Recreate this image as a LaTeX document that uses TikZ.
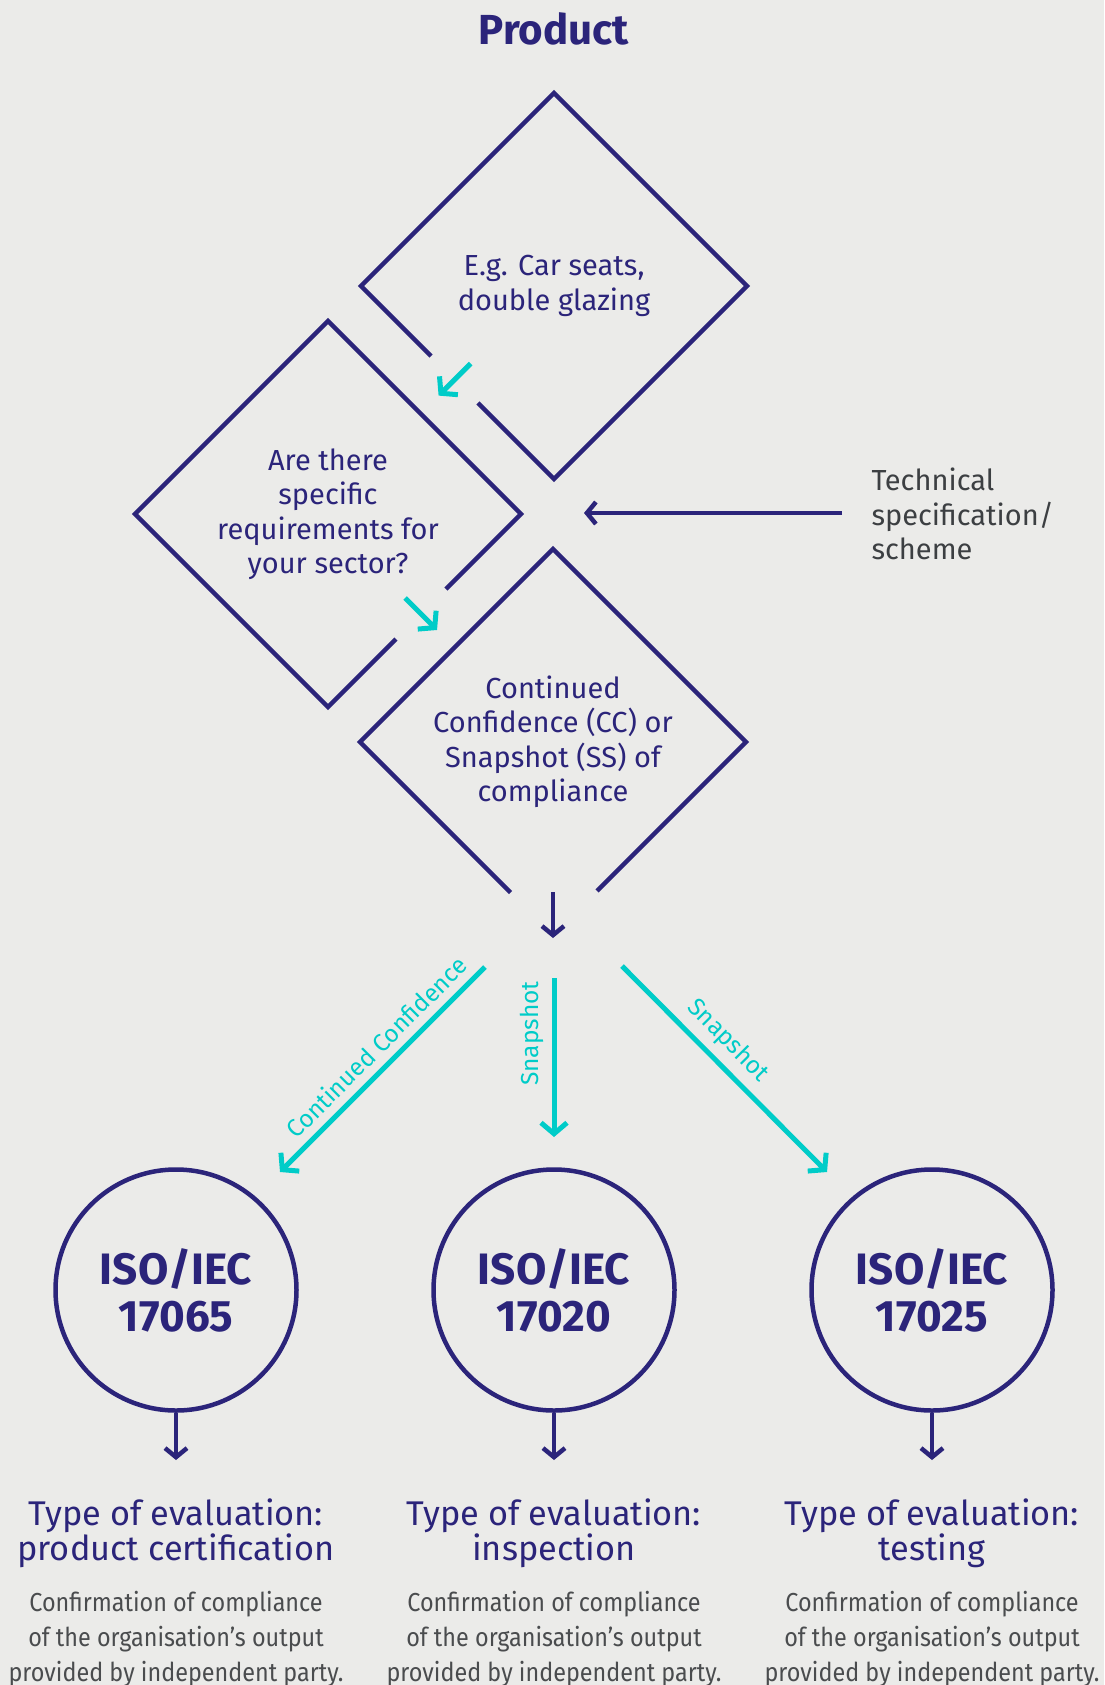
\documentclass[tikz,border=0pt]{standalone}
\usepackage{fontspec}
\setmainfont{Fira Sans}
\newfontfamily\narrowfont{Fira Sans}[FakeStretch=0.9]
\usepackage{xcolor}
\usepackage{tikz}
\usetikzlibrary{shapes.geometric, arrows.meta, calc}
\definecolor{navy}{HTML}{2B247A}
\definecolor{teal}{HTML}{00CCC8}
\definecolor{paper}{HTML}{EBEBE9}
\definecolor{ink}{HTML}{3C3F42}
\definecolor{soft}{HTML}{4A4C4E}
\tikzstyle{question} = [diamond, aspect=1, minimum width=386pt, minimum height=386pt, inner sep=0pt, outer sep=0pt, align=center, text=navy, font=\fontsize{29}{34.5}\selectfont]
\tikzstyle{standard} = [circle, minimum size=241pt, inner sep=0pt, draw=navy, line width=4.5pt, align=center, text=navy, font=\bfseries\fontsize{44}{47}\selectfont]
\tikzstyle{evaltype} = [align=center, text=navy, font=\fontsize{34.3}{34}\selectfont]
\tikzstyle{evaltext} = [align=center, text=soft, font=\narrowfont\fontsize{26}{35}\selectfont]
\tikzstyle{outline} = [draw=navy, line width=4.5pt]
\tikzstyle{arrow} = [line width=4.5pt, draw=navy, -{Straight Barb[length=9pt, width=22pt]}]
\tikzstyle{flow} = [line width=5pt, draw=teal, -{Straight Barb[length=11pt, width=26pt]}]
\tikzstyle{route} = [text=teal, font=\fontsize{24.5}{26}\selectfont, inner sep=8pt]

\begin{document}
\begin{tikzpicture}[x=1pt, y=-1pt]
   \fill[paper] (0,0) rectangle (1104,1685);
   \useasboundingbox (0,0) rectangle (1104,1685);

   \node (title) [text=navy, font=\bfseries\fontsize{42}{46}\selectfont] at (554,29) {Product};

   % three questions
   \node (d1) [question] at (554,286) {E.g. Car seats,\\double glazing};
   \node (d2) [question] at (328,514) {Are there\\specific\\requirements for\\your sector?};
   \node (d3) [question] at (553,742) {Continued\\Confidence (CC) or\\Snapshot (SS) of\\compliance};

   \draw [outline] ($(d1.west)!0.606!(d1.south)$) -- (d1.south) -- (d1.east) -- (d1.north) -- (d1.west) -- ($(d1.west)!0.363!(d1.south)$);
   \draw [outline] ($(d2.east)!0.389!(d2.south)$) -- (d2.east) -- (d2.north) -- (d2.west) -- (d2.south) -- ($(d2.east)!0.648!(d2.south)$);
   \draw [outline] ($(d3.west)!0.78!(d3.south)$) -- (d3.west) -- (d3.north) -- (d3.east) -- ($(d3.south)!0.228!(d3.east)$);

   \coordinate (g1) at ($(d1.west)!0.485!(d1.south)$);
   \coordinate (g2) at ($(d2.east)!0.518!(d2.south)$);
   \draw [flow] ($(g1)+(16,-16)$) -- ($(g1)+(-16,16)$);
   \draw [flow] ($(g2)+(-16,-16)$) -- ($(g2)+(16,16)$);

   \node (spec) [anchor=west, align=left, text=ink, font=\fontsize{29}{34.5}\selectfont] at (868,514) {Technical\\specification/\\scheme};
   \coordinate (inlet) at (584,513);
   \draw [arrow] (842,513) -- (inlet);

   \coordinate (out1) at (553,892);
   \coordinate (out2) at (553,938);
   \draw [arrow] (out1) -- (out2);

   % the three standards
   \node (c1) [standard] at (176,1290) {ISO/IEC\\17065};
   \node (c2) [standard] at (554,1290) {ISO/IEC\\17020};
   \node (c3) [standard] at (932,1290) {ISO/IEC\\17025};

   \coordinate (cc1) at (485,967);  \coordinate (cc2) at (280,1172);
   \coordinate (sm1) at (554,978);  \coordinate (sm2) at (554,1137);
   \coordinate (sr1) at (622,966);  \coordinate (sr2) at (827,1172);
   \draw [flow] (cc1) -- node[route, sloped, above, pos=0.46] {Continued Confidence} (cc2);
   \draw [flow] (sm1) -- node[route, rotate=90, anchor=south, pos=0.35] {Snapshot} (sm2);
   \draw [flow] (sr1) -- node[route, sloped, above, pos=0.44] {Snapshot} (sr2);

   \coordinate (e1) at (176,1460);
   \coordinate (e2) at (554,1460);
   \coordinate (e3) at (932,1460);
   \draw [arrow] (c1.south) -- (e1);
   \draw [arrow] (c2.south) -- (e2);
   \draw [arrow] (c3.south) -- (e3);

   \node (t1) [evaltype] at (176,1533) {Type of evaluation:\\product certification};
   \node (t2) [evaltype] at (554,1533) {Type of evaluation:\\inspection};
   \node (t3) [evaltype] at (932,1533) {Type of evaluation:\\testing};

   \node (x1) [evaltext] at (176,1639) {Confirmation of compliance\\of the organisation’s output\\provided by independent party.};
   \node (x2) [evaltext] at (554,1639) {Confirmation of compliance\\of the organisation’s output\\provided by independent party.};
   \node (x3) [evaltext] at (932,1639) {Confirmation of compliance\\of the organisation’s output\\provided by independent party.};
\end{tikzpicture}
\end{document}
